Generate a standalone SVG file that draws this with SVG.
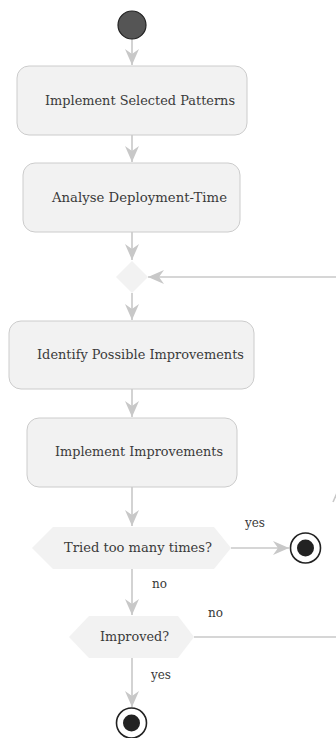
<svg xmlns="http://www.w3.org/2000/svg" width="336" height="738" viewBox="0 0 336 738">
<style>
.box{fill:#f2f2f2;stroke:#cccccc;stroke-width:1}
.dec{fill:#f2f2f2;stroke:none}
.lbl{font-family:'DejaVu Serif','Liberation Serif',serif;font-size:13.5px;fill:#3a3a3a;text-anchor:middle}
.el{font-family:'DejaVu Serif','Liberation Serif',serif;font-size:12.5px;fill:#3a3a3a}
.edge{fill:none;stroke:#c8c8c8;stroke-width:1.6}
</style>
<defs>
<marker id="ah" markerUnits="userSpaceOnUse" markerWidth="18" markerHeight="16" refX="16" refY="7" orient="auto">
<path d="M0,0 L16,7 L0,14 L5,7 z" fill="#c8c8c8"/>
</marker>
</defs>
<rect width="336" height="738" fill="#ffffff"/>
<g id="edges">
<line class="edge" x1="132" y1="39" x2="132" y2="65" marker-end="url(#ah)"/>
<line class="edge" x1="132" y1="135" x2="132" y2="162" marker-end="url(#ah)"/>
<line class="edge" x1="132" y1="232" x2="132" y2="260" marker-end="url(#ah)"/>
<line class="edge" x1="340" y1="277" x2="148" y2="277" marker-end="url(#ah)"/>
<line class="edge" x1="132" y1="293" x2="132" y2="320" marker-end="url(#ah)"/>
<line class="edge" x1="132" y1="389" x2="132" y2="417" marker-end="url(#ah)"/>
<line class="edge" x1="132" y1="487" x2="132" y2="526" marker-end="url(#ah)"/>
<line class="edge" x1="231" y1="548" x2="289" y2="548" marker-end="url(#ah)"/>
<line class="edge" x1="132" y1="569" x2="132" y2="615" marker-end="url(#ah)"/>
<line class="edge" x1="194" y1="637" x2="340" y2="637"/>
<line class="edge" x1="132" y1="658" x2="132" y2="707" marker-end="url(#ah)"/>
<line class="edge" x1="333" y1="502" x2="337" y2="493"/>
<text class="el" x="245" y="527" textLength="20" lengthAdjust="spacingAndGlyphs">yes</text>
<text class="el" x="152" y="588" textLength="15" lengthAdjust="spacingAndGlyphs">no</text>
<text class="el" x="208" y="617" textLength="15" lengthAdjust="spacingAndGlyphs">no</text>
<text class="el" x="151" y="679" textLength="20" lengthAdjust="spacingAndGlyphs">yes</text>
</g>
<g id="start"><circle cx="132" cy="25" r="14" fill="#555555" stroke="#222222" stroke-width="1.2"/></g>
<g id="n1"><rect class="box" x="17" y="66" width="230" height="69" rx="12"/><text class="lbl" x="140" y="105" textLength="190" lengthAdjust="spacingAndGlyphs">Implement Selected Patterns</text></g>
<g id="n2"><rect class="box" x="23" y="163" width="217" height="69" rx="12"/><text class="lbl" x="139.5" y="202" textLength="175" lengthAdjust="spacingAndGlyphs">Analyse Deployment-Time</text></g>
<g id="merge"><polygon class="dec" points="132,261 148,277 132,293 116,277"/></g>
<g id="n3"><rect class="box" x="9" y="321" width="245" height="68" rx="12"/><text class="lbl" x="140.5" y="359" textLength="207" lengthAdjust="spacingAndGlyphs">Identify Possible Improvements</text></g>
<g id="n4"><rect class="box" x="27" y="418" width="210" height="69" rx="12"/><text class="lbl" x="139" y="456" textLength="168" lengthAdjust="spacingAndGlyphs">Implement Improvements</text></g>
<g id="d1"><polygon class="dec" points="32,548 53,527 214,527 231,548 214,569 53,569"/><text class="lbl" x="138" y="552" textLength="148" lengthAdjust="spacingAndGlyphs">Tried too many times?</text></g>
<g id="end1"><circle cx="305.5" cy="548" r="15" fill="#ffffff" stroke="#222222" stroke-width="1.6"/><circle cx="305.5" cy="548" r="8.5" fill="#222222"/></g>
<g id="d2"><polygon class="dec" points="69,637 89,616 178,616 194,637 178,658 89,658"/><text class="lbl" x="134.5" y="641" textLength="69" lengthAdjust="spacingAndGlyphs">Improved?</text></g>
<g id="end2"><circle cx="131.5" cy="723" r="15" fill="#ffffff" stroke="#222222" stroke-width="1.6"/><circle cx="131.5" cy="723" r="8.5" fill="#222222"/></g>
</svg>
